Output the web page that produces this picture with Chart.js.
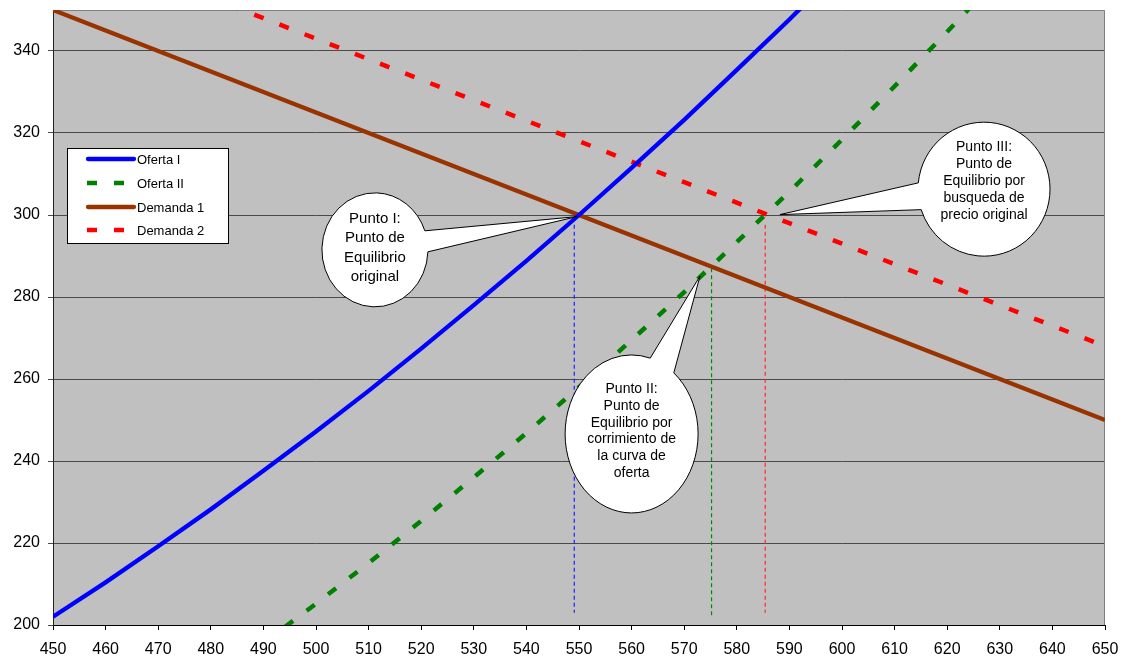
<!DOCTYPE html>
<html>
<head>
<meta charset="utf-8">
<script src="https://cdn.jsdelivr.net/npm/chart.js@4.4.1/dist/chart.umd.min.js"></script>
<style>
html,body{margin:0;padding:0;background:#fff;}
#wrap{width:1126px;height:659px;}
</style>
</head>
<body>
<div id="wrap"><canvas id="c" width="1126" height="659"></canvas></div>
<script>
// ---- data ----
const qOfertaI   = [450,460,470,480,490,500,510,520,530,540,550,560,570,580,590,600];
const pOfertaI   = [202.0,210.4,219.2,228.2,237.6,247.2,257.1,267.4,278.0,288.8,300.0,311.5,323.2,335.4,347.7,360.4];
const qOfertaII  = [490,500,510,520,530,540,550,560,570,580,590,600,610,620,630];
const pOfertaII  = [195.6,205.2,215.1,225.4,236.0,246.8,258.0,269.5,281.2,293.4,305.7,318.4,331.4,344.7,358.3];
const qDemanda   = [450,460,470,480,490,500,510,520,530,540,550,560,570,580,590,600,610,620,630,640,650];
const pDemanda1  = [350,345,340,335,330,325,320,315,310,305,300,295,290,285,280,275,270,265,260,255,250];
const pDemanda2  = [368,363,358,353,348,343,338,333,328,323,318,313,308,303,298,293,288,283,278,273,268];
// equilibrium drop lines: [x, yTop, yBottom]
const dropI   = [549.1, 297.6, 203];
const dropII  = [575.2, 287.0, 202.2];
const dropIII = [585.4, 297.6, 203];
const seriesNames = ['Oferta I','Oferta II','Demanda 1','Demanda 2'];
const xTicks = [450,460,470,480,490,500,510,520,530,540,550,560,570,580,590,600,610,620,630,640,650];
const yTicks = [200,220,240,260,280,300,320,340];

const FONT = '"Liberation Sans", Arial, Helvetica, sans-serif';

function pts(xs, ys){ return xs.map((x,i)=>({x:x, y:ys[i]})); }
function drop(d){ return [{x:d[0], y:d[1]},{x:d[0], y:d[2]}]; }

const callouts = [
  {lines:['Punto I:','Punto de','Equilibrio','original'], cx:511.2, cy:291.5, rx:53, ry:57,
   tx:549.6, ty:299.6, a1:-19.5, a2:2, font:15, lh:19.2, dy:-2},
  {lines:['Punto II:','Punto de','Equilibrio por','corrimiento de','la curva de','oferta'], cx:560.0, cy:246.6, rx:66.5, ry:79,
   tx:573.0, ty:285.1, a1:-73.7, a2:-50.6, font:14, lh:16.8, dy:-2.7},
  {lines:['Punto III:','Punto de','Equilibrio por','busqueda de','precio original'], cx:627.0, cy:306.3, rx:66, ry:67,
   tx:588.2, ty:300.1, a1:162.2, a2:185.4, font:14, lh:16.9, dy:-7.8}
];

const bgPlugin = {
  id:'bg',
  beforeDraw(chart){
    const {ctx, chartArea:a} = chart;
    ctx.save();
    ctx.fillStyle = '#C0C0C0';
    ctx.fillRect(a.left, a.top, a.right-a.left, a.bottom-a.top);
    ctx.restore();
  },
  beforeDatasetsDraw(chart){
    const {ctx, chartArea:a} = chart;
    ctx.save();
    ctx.strokeStyle = '#808080';
    ctx.lineWidth = 1;
    ctx.beginPath();
    ctx.moveTo(a.left, a.top+0.5); ctx.lineTo(a.right-0.5, a.top+0.5); ctx.lineTo(a.right-0.5, a.bottom);
    ctx.stroke();
    ctx.restore();
  }
};

const overlayPlugin = {
  id:'overlay',
  afterDatasetsDraw(chart){
    const {ctx, chartArea:a} = chart;
    const xs = chart.scales.x, ys = chart.scales.y;
    // callouts
    callouts.forEach(c=>{
      const cx = xs.getPixelForValue(c.cx), cy = ys.getPixelForValue(c.cy);
      const tx = xs.getPixelForValue(c.tx), ty = ys.getPixelForValue(c.ty);
      const a1 = c.a1*Math.PI/180, a2 = c.a2*Math.PI/180;
      ctx.save();
      ctx.beginPath();
      ctx.ellipse(cx, cy, c.rx, c.ry, 0, a2, a1 + 2*Math.PI, false);
      ctx.lineTo(tx, ty);
      ctx.closePath();
      ctx.fillStyle = '#FFFFFF';
      ctx.fill();
      ctx.lineWidth = 1;
      ctx.lineJoin = 'miter';
      ctx.strokeStyle = '#000000';
      ctx.stroke();
      ctx.fillStyle = '#000';
      ctx.font = c.font + 'px ' + FONT;
      ctx.textAlign = 'center';
      ctx.textBaseline = 'middle';
      const n = c.lines.length;
      c.lines.forEach((t,i)=>{
        ctx.fillText(t, cx, cy + c.dy + (i-(n-1)/2)*c.lh);
      });
      ctx.restore();
    });
    // legend
    const L = a.left + 14, T = a.top + 138, W = 161, H = 95;
    ctx.save();
    ctx.fillStyle = '#FFFFFF';
    ctx.fillRect(L, T, W, H);
    ctx.strokeStyle = '#000';
    ctx.lineWidth = 1;
    ctx.strokeRect(L+0.5, T+0.5, W, H);
    const rows = [11, 35, 59, 82];
    for (let i=0;i<4;i++){
      const ds = chart.data.datasets[i];
      const y = T + rows[i];
      ctx.beginPath();
      ctx.strokeStyle = ds.borderColor;
      ctx.lineWidth = ds.borderWidth;
      if (ds.borderDash && ds.borderDash.length){
        ctx.setLineDash(ds.borderDash);
        ctx.lineCap = 'butt';
        ctx.moveTo(L+20, y); ctx.lineTo(L+68, y);
      } else {
        ctx.setLineDash([]);
        ctx.lineCap = 'round';
        ctx.moveTo(L+21, y); ctx.lineTo(L+67, y);
      }
      ctx.stroke();
      ctx.setLineDash([]);
      ctx.fillStyle = '#000';
      ctx.font = '13px ' + FONT;
      ctx.textAlign = 'left';
      ctx.textBaseline = 'middle';
      ctx.fillText(ds.label, L+70, y+1.5);
    }
    ctx.restore();
  }
};

const lineStyle = {pointRadius:0, pointHoverRadius:0, fill:false, tension:0, clip:0};

new Chart(document.getElementById('c'), {
  type:'line',
  data:{
    datasets:[
      Object.assign({label:seriesNames[0], data:pts(qOfertaI,pOfertaI), borderColor:'#0000FF', borderWidth:4.3}, lineStyle),
      Object.assign({label:seriesNames[1], data:pts(qOfertaII,pOfertaII), borderColor:'#008000', borderWidth:4.5, borderDash:[10,17], borderCapStyle:'butt'}, lineStyle),
      Object.assign({label:seriesNames[2], data:pts(qDemanda,pDemanda1), borderColor:'#993300', borderWidth:4.3}, lineStyle),
      Object.assign({label:seriesNames[3], data:pts(qDemanda,pDemanda2), borderColor:'#FF0000', borderWidth:4.5, borderDash:[10,17], borderCapStyle:'butt'}, lineStyle),
      Object.assign({label:'v1', data:drop(dropI), borderColor:'#2020ff', borderWidth:1.2, borderDash:[4,3]}, lineStyle),
      Object.assign({label:'v2', data:drop(dropII), borderColor:'#008c00', borderWidth:1.2, borderDash:[4,3]}, lineStyle),
      Object.assign({label:'v3', data:drop(dropIII), borderColor:'#ff2a2a', borderWidth:1.2, borderDash:[4,3]}, lineStyle)
    ]
  },
  options:{
    responsive:false,
    animation:false,
    devicePixelRatio:1,
    events:[],
    layout:{padding:{left:0,right:21,top:10,bottom:0}},
    plugins:{legend:{display:false}, tooltip:{enabled:false}, title:{display:false}},
    scales:{
      x:{
        type:'linear', min:450, max:650,
        afterBuildTicks(s){ s.ticks = xTicks.map(v=>({value:v})); },
        afterFit(s){ s.height = 34; s.paddingLeft = 0; s.paddingRight = 0; },
        ticks:{font:{family:FONT,size:16}, color:'#000', padding:10, maxRotation:0, autoSkip:false},
        grid:{display:true, drawOnChartArea:false, drawTicks:true, tickLength:5, color:'#000'},
        border:{display:true, color:'#000', width:1}
      },
      y:{
        type:'linear', min:200, max:350,
        afterBuildTicks(s){ s.ticks = yTicks.map(v=>({value:v})); },
        afterFit(s){ s.width = 53; s.paddingTop = 0; s.paddingBottom = 0; },
        ticks:{font:{family:FONT,size:16}, color:'#000', padding:8, autoSkip:false},
        grid:{display:true, drawOnChartArea:true, drawTicks:true, tickLength:5, color:'#4a4a4a'},
        border:{display:true, color:'#222', width:1}
      }
    }
  },
  plugins:[bgPlugin, overlayPlugin]
});
</script>
</body>
</html>
